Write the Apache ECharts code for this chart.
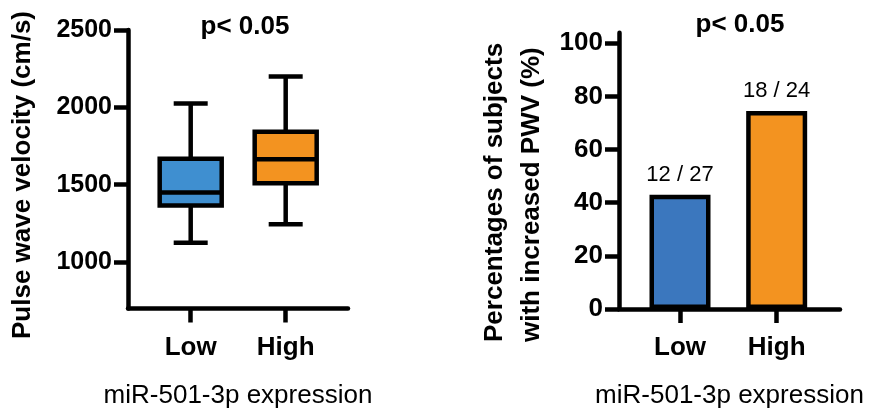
<!DOCTYPE html>
<html>
<head>
<meta charset="utf-8">
<script src="https://cdn.jsdelivr.net/npm/echarts@6/dist/echarts.min.js"></script>
<style>
html,body{margin:0;padding:0;background:#fff;}
#c{width:880px;height:414px;}
</style>
</head>
<body>
<div id="c"></div>
<script>
// ---- data ----
const categories = ['Low', 'High'];
// box plot stats: [min, Q1, median, Q3, max]
const pwvLow = [1125, 1365, 1450, 1668, 2025];
const pwvHigh = [1245, 1510, 1665, 1843, 2200];
const pwvTicks = [1000, 1500, 2000, 2500];
const pctValues = [43, 74.5];
const pctLabels = ['12 / 27', '18 / 24'];
const pctTicks = [0, 20, 40, 60, 80, 100];
const pValueText = 'p< 0.05';
const leftYName = 'Pulse wave velocity (cm/s)';
const rightYName = 'Percentages of subjects\nwith increased PWV (%)';
const xName = 'miR-501-3p expression';

// ---- styles ----
const FONT = "'Liberation Sans', Arial, Helvetica, sans-serif";
const boxColors = ['#3f8fd0', '#f39320'];
const barColors = ['#3b77be', '#f39320'];
const BLACK = '#000';

const chart = echarts.init(document.getElementById('c'), null, {renderer: 'canvas'});

function xAxisCommon(gridIndex, min, max) {
  return {
    type: 'value', gridIndex, min, max,
    splitLine: {show: false},
    axisLine: {show: true, onZero: false, lineStyle: {color: BLACK, width: 4.5}},
    axisTick: {show: true, length: 14, customValues: [1, 2], lineStyle: {color: BLACK, width: 4.5}},
    axisLabel: {
      show: true, customValues: [1, 2], margin: 26,
      formatter: v => categories[Math.round(v) - 1] || '',
      color: BLACK, fontFamily: FONT, fontWeight: 'bold', fontSize: 26
    },
    name: xName, nameLocation: 'middle', nameGap: 74,
    nameTextStyle: {color: BLACK, fontFamily: FONT, fontSize: 26}
  };
}

function yAxisCommon(gridIndex, min, max, ticks, margin, fontSize) {
  return {
    type: 'value', gridIndex, min, max,
    splitLine: {show: false},
    axisLine: {show: true, onZero: false, lineStyle: {color: BLACK, width: 4.5}},
    axisTick: {show: true, length: 14, customValues: ticks, lineStyle: {color: BLACK, width: 4.5}},
    axisLabel: {
      show: true, customValues: ticks, margin,
      formatter: v => String(Math.round(v)),
      color: BLACK, fontFamily: FONT, fontWeight: 'bold', fontSize
    }
  };
}

const boxData = [[1].concat(pwvLow), [2].concat(pwvHigh)];

const option = {
  backgroundColor: '#fff',
  animation: false,
  title: [
    {text: pValueText, left: 245, top: 14, textAlign: 'center', padding: 0,
     textStyle: {fontFamily: FONT, fontWeight: 'bold', fontSize: 26, color: BLACK}},
    {text: pValueText, left: 740, top: 12, textAlign: 'center', padding: 0,
     textStyle: {fontFamily: FONT, fontWeight: 'bold', fontSize: 26, color: BLACK}}
  ],
  grid: [
    {left: 128, top: 30, width: 220, height: 278.5, containLabel: false},
    {left: 619, top: 32.7, width: 221, height: 276.8, containLabel: false}
  ],
  xAxis: [
    xAxisCommon(0, 0.34, 2.656),
    xAxisCommon(1, 0.369, 2.655)
  ],
  yAxis: [
    yAxisCommon(0, 700, 2500, pwvTicks, 16, 25),
    yAxisCommon(1, 0, 104, pctTicks, 16, 26)
  ],
  graphic: [
    {type: 'text', x: 23, y: 175, rotation: Math.PI / 2,
     style: {text: leftYName, textAlign: 'center', textVerticalAlign: 'middle',
       font: "bold 26px " + FONT, fill: BLACK}},
    {type: 'text', x: 513.5, y: 342, rotation: Math.PI / 2,
     style: {text: rightYName, textAlign: 'left', textVerticalAlign: 'middle',
       font: "bold 26px " + FONT, lineHeight: 37, fill: BLACK}}
  ],
  series: [
    {
      type: 'custom',
      xAxisIndex: 0, yAxisIndex: 0,
      data: boxData,
      encode: {x: 0, y: [1, 2, 3, 4, 5]},
      renderItem: function (params, api) {
        const x = api.value(0);
        const pMin = api.coord([x, api.value(1)]);
        const pQ1 = api.coord([x, api.value(2)]);
        const pMed = api.coord([x, api.value(3)]);
        const pQ3 = api.coord([x, api.value(4)]);
        const pMax = api.coord([x, api.value(5)]);
        const cx = pMin[0];
        const hb = 31, hc = 17;
        const color = boxColors[params.dataIndex];
        const ls = {stroke: BLACK, lineWidth: 4.5, fill: null};
        return {
          type: 'group',
          children: [
            {type: 'line', shape: {x1: cx, y1: pQ1[1], x2: cx, y2: pMin[1]}, style: ls},
            {type: 'line', shape: {x1: cx, y1: pQ3[1], x2: cx, y2: pMax[1]}, style: ls},
            {type: 'line', shape: {x1: cx - hc, y1: pMin[1], x2: cx + hc, y2: pMin[1]}, style: ls},
            {type: 'line', shape: {x1: cx - hc, y1: pMax[1], x2: cx + hc, y2: pMax[1]}, style: ls},
            {type: 'rect', shape: {x: cx - hb, y: pQ3[1], width: hb * 2, height: pQ1[1] - pQ3[1]},
             style: {fill: color, stroke: BLACK, lineWidth: 4.5}},
            {type: 'line', shape: {x1: cx - hb, y1: pMed[1], x2: cx + hb, y2: pMed[1]}, style: ls}
          ]
        };
      }
    },
    {
      type: 'bar',
      xAxisIndex: 1, yAxisIndex: 1,
      barWidth: 61,
      data: pctValues.map((v, i) => ({
        value: [i + 1, v],
        itemStyle: {color: barColors[i], borderColor: BLACK, borderWidth: 4.5},
        label: {formatter: pctLabels[i]}
      })),
      label: {show: true, position: 'top', distance: 9,
        color: BLACK, fontFamily: FONT, fontSize: 22}
    }
  ]
};
chart.setOption(option);
</script>
</body>
</html>
